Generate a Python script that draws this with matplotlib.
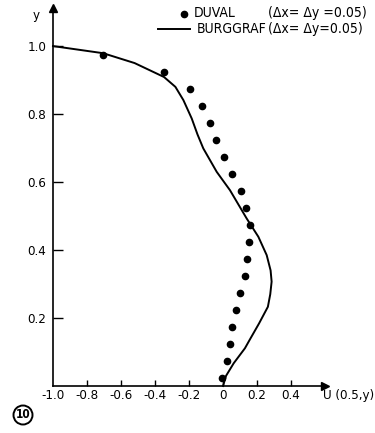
import matplotlib
matplotlib.use("Agg")
import matplotlib.pyplot as plt
from matplotlib.patches import Circle

plt.rcParams['font.family'] = ['DejaVu Sans']
plt.rcParams['font.stretch'] = 'condensed'
plt.rcParams['axes.unicode_minus'] = False

# DUVAL points (u, y)
duval_y = [0.975, 0.925, 0.875, 0.825, 0.775, 0.725, 0.675, 0.625, 0.575, 0.525,
           0.475, 0.425, 0.375, 0.325, 0.275, 0.225, 0.175, 0.125, 0.075, 0.025]
duval_u = [-0.705, -0.347, -0.194, -0.124, -0.076, -0.043, 0.008, 0.055, 0.106, 0.135,
           0.157, 0.151, 0.139, 0.128, 0.102, 0.076, 0.055, 0.044, 0.025, -0.004]

# BURGGRAF curve (u, y)
burg_y = [1.0, 0.979, 0.95, 0.909, 0.88, 0.841, 0.787, 0.740, 0.699, 0.630, 0.576,
          0.493, 0.439, 0.385, 0.340, 0.307, 0.270, 0.233, 0.184, 0.135, 0.111, 0.067, 0.03, 0.0]
burg_u = [-1.0, -0.705, -0.52, -0.347, -0.28, -0.233, -0.184, -0.150, -0.116, -0.037, 0.041,
          0.139, 0.208, 0.257, 0.280, 0.286, 0.278, 0.264, 0.212, 0.156, 0.129, 0.063, 0.018, 0.0]

xticks = [-1.0, -0.8, -0.6, -0.4, -0.2, 0.0, 0.2, 0.4]
xlabels = ['-1.0', '-0.8', '-0.6', '-0.4', '-0.2', '0', '0.2', '0.4']
yticks = [0.2, 0.4, 0.6, 0.8, 1.0]
ylabels = ['0.2', '0.4', '0.6', '0.8', '1.0']

FS = 9.5
FL = 10
W, H = 375, 433
fig = plt.figure(figsize=(W / 100, H / 100), dpi=100)
x0, x1 = 53, 325
y0, y1 = 386, 8
ax = fig.add_axes([x0 / W, 1 - y0 / H, (x1 - x0) / W, (y0 - y1) / H])
ax.set_xlim(-1.0, 0.6)
ax.set_ylim(0, 1.112)
ax.patch.set_alpha(0)

for s in ['top', 'right']:
    ax.spines[s].set_visible(False)
for s in ['left', 'bottom']:
    ax.spines[s].set_linewidth(1.2)
    ax.spines[s].set_color('black')

ax.set_xticks(xticks)
ax.set_xticklabels(xlabels, fontsize=FS)
ax.set_yticks(yticks)
ax.set_yticklabels(ylabels, fontsize=FS)
ax.tick_params(axis='x', direction='in', length=4, width=1.0, pad=2.5)
ax.tick_params(axis='y', direction='in', length=7, width=1.0, pad=5)
ax.xaxis.get_major_ticks()[0].tick1line.set_visible(False)

# arrows
ax.plot([0.6], [0], marker='>', color='black', markersize=6, clip_on=False)
ax.plot([-1.0], [1.112], marker='^', color='black', markersize=6, clip_on=False)

ax.plot(burg_u, burg_y, color='black', linewidth=1.4, clip_on=False)
ax.plot(duval_u, duval_y, 'o', color='black', markersize=4.5, clip_on=False)

# labels
fig.text(36 / W, 1 - 16 / H, 'y', fontsize=FS, ha='center', va='center')
fig.text(323 / W, 1 - 395 / H, 'U (0.5,y)', fontsize=FS, ha='left', va='center')

# legend
fig.lines.append(plt.Line2D([184 / W], [1 - 14 / H], marker='o', color='black',
                            markersize=4.5, transform=fig.transFigure))
fig.text(194 / W, 1 - 13 / H, 'DUVAL', fontsize=FL, ha='left', va='center')
fig.text(268 / W, 1 - 13 / H, '(\u0394x= \u0394y =0.05)', fontsize=FL, ha='left', va='center')
fig.lines.append(plt.Line2D([158 / W, 190 / W], [1 - 29 / H, 1 - 29 / H], color='black',
                            linewidth=1.4, transform=fig.transFigure))
fig.text(197 / W, 1 - 29 / H, 'BURGGRAF', fontsize=FL, ha='left', va='center')
fig.text(268 / W, 1 - 29 / H, '(\u0394x= \u0394y=0.05)', fontsize=FL, ha='left', va='center')

# circled figure number
fig.patches.append(Circle((23, H - 415), 9.5, transform=None, fill=False,
                          edgecolor='black', linewidth=1.4))
fig.text(23 / W, 1 - 415 / H, '10', fontsize=8.5, fontweight='bold', ha='center', va='center')

fig.savefig('out.png', dpi=100)
